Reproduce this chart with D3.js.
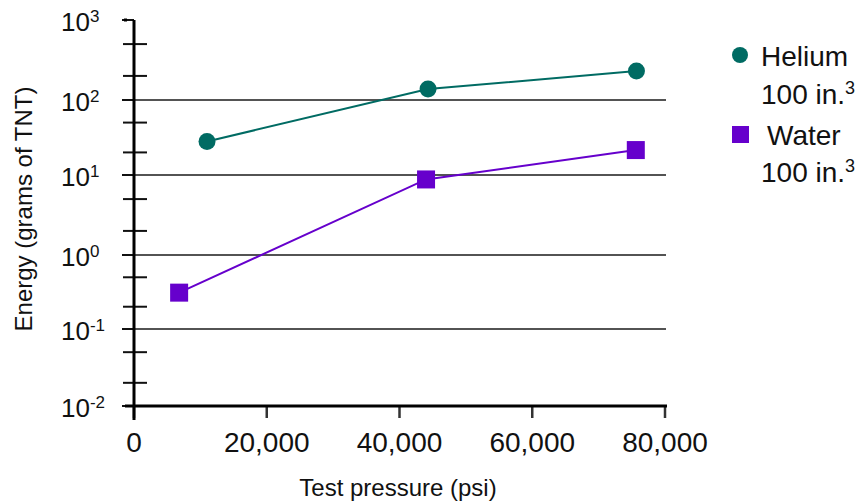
<!DOCTYPE html>
<html>
<head>
<meta charset="utf-8">
<script src="https://cdn.jsdelivr.net/npm/d3@7"></script>
<style>
  body { margin: 0; background: #fff; }
  svg { font-family: "Liberation Sans", Arial, sans-serif; }
</style>
</head>
<body>
<div id="main"></div>
<script>
// data
var heliumPressure = [11000, 44300, 75700];
var heliumEnergy = [28, 137, 230];
var waterPressure = [6800, 44000, 75600];
var waterEnergy = [0.31, 8.8, 21.5];
var xTicks = [0, 20000, 40000, 60000, 80000];
var yDecades = [-2, -1, 0, 1, 2, 3];

var width = 860, height = 502;

var svg = d3.select('#main')
    .append('svg')
    .attr('width', width)
    .attr('height', height);

var x = d3.scaleLinear()
    .domain([0, 80000])
    .range([134, 665]);

// the original axis has slightly uneven decades, so a piecewise log scale
var y = d3.scaleLog()
    .domain([1e-2, 1e-1, 1, 10, 100, 1000])
    .range([406, 329, 255, 175, 100, 20]);

// horizontal grid at each decade
svg.append('g')
    .selectAll('line')
    .data(yDecades.slice(1, 5))
    .join('line')
    .attr('x1', 122)
    .attr('x2', 666)
    .attr('y1', d => y(Math.pow(10, d)))
    .attr('y2', d => y(Math.pow(10, d)))
    .attr('stroke', '#1a1a1a')
    .attr('stroke-width', 1.5);

// minor ticks at 2 and 5 of every decade
var minor = [];
yDecades.slice(0, 5).forEach(d => {
    minor.push(2 * Math.pow(10, d));
    minor.push(5 * Math.pow(10, d));
});
svg.append('g')
    .selectAll('line')
    .data(minor)
    .join('line')
    .attr('x1', 123)
    .attr('x2', 147)
    .attr('y1', d => y(d))
    .attr('y2', d => y(d))
    .attr('stroke', '#111')
    .attr('stroke-width', 2);

// decade ticks on left of the axis
svg.append('g')
    .selectAll('line')
    .data(yDecades)
    .join('line')
    .attr('x1', 122)
    .attr('x2', 134)
    .attr('y1', d => y(Math.pow(10, d)))
    .attr('y2', d => y(Math.pow(10, d)))
    .attr('stroke', '#111')
    .attr('stroke-width', 2);

// y tick labels 10^n
var yLab = svg.append('g')
    .selectAll('text')
    .data(yDecades)
    .join('text')
    .attr('x', 61)
    .attr('y', d => y(Math.pow(10, d)) + 11)
    .attr('font-size', 26)
    .attr('fill', '#111');
yLab.append('tspan').text('10');
yLab.append('tspan')
    .attr('font-size', 17)
    .attr('dy', -9)
    .text(d => d);

// x axis ticks
svg.append('g')
    .selectAll('line')
    .data(xTicks)
    .join('line')
    .attr('x1', d => x(d))
    .attr('x2', d => x(d))
    .attr('y1', 406)
    .attr('y2', 418)
    .attr('stroke', '#333')
    .attr('stroke-width', 2.5);

svg.append('g')
    .selectAll('text')
    .data(xTicks)
    .join('text')
    .attr('x', d => x(d))
    .attr('y', 452)
    .attr('text-anchor', 'middle')
    .attr('font-size', 28)
    .attr('fill', '#111')
    .text(d => d3.format(',')(d));

// axis lines
svg.append('line')
    .attr('x1', 134).attr('x2', 134)
    .attr('y1', 20).attr('y2', 420)
    .attr('stroke', '#000')
    .attr('stroke-width', 3);
svg.append('line')
    .attr('x1', 124).attr('x2', 127)
    .attr('y1', 20).attr('y2', 20)
    .attr('stroke', '#000')
    .attr('stroke-width', 3);
svg.append('line')
    .attr('x1', 125).attr('x2', 667)
    .attr('y1', 406).attr('y2', 406)
    .attr('stroke', '#000')
    .attr('stroke-width', 3);

// axis titles
svg.append('text')
    .attr('transform', 'translate(32,209) rotate(-90)')
    .attr('text-anchor', 'middle')
    .attr('font-size', 24)
    .attr('fill', '#111')
    .text('Energy (grams of TNT)');
svg.append('text')
    .attr('x', 398)
    .attr('y', 496)
    .attr('text-anchor', 'middle')
    .attr('font-size', 24)
    .attr('fill', '#111')
    .text('Test pressure (psi)');

var line = d3.line()
    .x(d => x(d[0]))
    .y(d => y(d[1]));

var helium = d3.zip(heliumPressure, heliumEnergy);
var water = d3.zip(waterPressure, waterEnergy);

var teal = '#006b63';
var purple = '#6600cc';

svg.append('path')
    .attr('d', line(helium))
    .attr('fill', 'none')
    .attr('stroke', teal)
    .attr('stroke-width', 2);
svg.append('g')
    .selectAll('circle')
    .data(helium)
    .join('circle')
    .attr('cx', d => x(d[0]))
    .attr('cy', d => y(d[1]))
    .attr('r', 8.5)
    .attr('fill', teal);

svg.append('path')
    .attr('d', line(water))
    .attr('fill', 'none')
    .attr('stroke', purple)
    .attr('stroke-width', 2);
svg.append('g')
    .selectAll('rect')
    .data(water)
    .join('rect')
    .attr('x', d => x(d[0]) - 9)
    .attr('y', d => y(d[1]) - 9)
    .attr('width', 18)
    .attr('height', 18)
    .attr('fill', purple);

// legend
var legend = svg.append('g').attr('font-size', 28).attr('fill', '#111');
legend.append('circle')
    .attr('cx', 740).attr('cy', 55).attr('r', 8).attr('fill', teal);
legend.append('text').attr('x', 761).attr('y', 66).text('Helium');
var l1 = legend.append('text').attr('x', 761).attr('y', 104);
l1.append('tspan').text('100 in.');
l1.append('tspan').attr('font-size', 18).attr('dy', -10).text('3');

legend.append('rect')
    .attr('x', 732).attr('y', 126).attr('width', 17).attr('height', 17)
    .attr('fill', purple);
legend.append('text').attr('x', 767).attr('y', 145).text('Water');
var l2 = legend.append('text').attr('x', 761).attr('y', 182);
l2.append('tspan').text('100 in.');
l2.append('tspan').attr('font-size', 18).attr('dy', -10).text('3');
</script>
</body>
</html>
